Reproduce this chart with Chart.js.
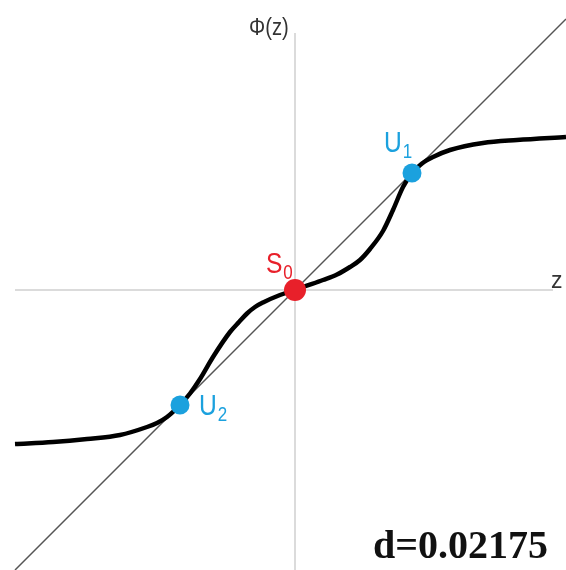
<!DOCTYPE html>
<html>
<head>
<meta charset="utf-8">
<script src="https://cdn.jsdelivr.net/npm/chart.js@4/dist/chart.umd.min.js"></script>
<style>
  html, body { margin: 0; padding: 0; background: #fff; }
  canvas { display: block; }
</style>
</head>
<body>
<canvas id="phiChart" width="566" height="570"></canvas>
<script>
// map Phi(z) sampled along z
const zValues = [-2.80, -2.42, -2.08, -1.75, -1.48, -1.38, -1.28, -1.15, -1.05, -0.95, -0.82, -0.65, -0.56, -0.48, -0.40, -0.32, -0.15, 0,
  0.08, 0.28, 0.42, 0.55, 0.65, 0.75, 0.88, 0.98, 1.08, 1.17, 1.27, 1.38, 1.55, 1.88, 2.22, 2.71];
const phiValues = [-1.54, -1.52, -1.49, -1.45, -1.37, -1.33, -1.27, -1.15, -1.035, -0.89, -0.67, -0.42, -0.32, -0.235, -0.17, -0.125, -0.05, 0,
  0.03, 0.10, 0.155, 0.23, 0.30, 0.41, 0.59, 0.80, 1.03, 1.17, 1.265, 1.33, 1.40, 1.47, 1.50, 1.53];

// identity line Phi(z) = z
const diagZ = [-2.80, 2.71];

// fixed points
const stableName = ['S', '0'];
const stablePoint = [0, 0];
const unstableNames = [['U', '1'], ['U', '2']];
const unstablePoints = [[1.17, 1.17], [-1.15, -1.15]];

const dLabel = 'd=0.02175';

const curveData = zValues.map((z, i) => ({ x: z, y: phiValues[i] }));
const diagData = diagZ.map(z => ({ x: z, y: z }));

// draws x/y axes through the origin, under the datasets
const axesPlugin = {
  id: 'axes',
  beforeDatasetsDraw(chart) {
    const { ctx, scales: { x, y } } = chart;
    const x0 = x.getPixelForValue(0);
    const y0 = y.getPixelForValue(0);
    ctx.save();
    ctx.strokeStyle = '#cfcfcf';
    ctx.lineWidth = 1.5;
    ctx.beginPath();
    ctx.moveTo(x.getPixelForValue(-2.80), y0);
    ctx.lineTo(x.getPixelForValue(2.58), y0);
    ctx.moveTo(x0, y.getPixelForValue(2.57));
    ctx.lineTo(x0, y.getPixelForValue(-2.80));
    ctx.stroke();
    ctx.restore();
  }
};

function subLabel(ctx, parts, px, py, size, color) {
  ctx.save();
  ctx.fillStyle = color;
  ctx.textBaseline = 'alphabetic';
  ctx.translate(px, py);
  ctx.scale(0.85, 1);
  ctx.font = size + 'px "Liberation Sans", Arial, sans-serif';
  ctx.fillText(parts[0], 0, 0);
  const w = ctx.measureText(parts[0]).width;
  ctx.font = Math.round(size * 0.68) + 'px "Liberation Sans", Arial, sans-serif';
  ctx.fillText(parts[1], w + 1, 6);
  ctx.restore();
}

// axis titles, point names and the d value
const labelPlugin = {
  id: 'labels',
  afterDatasetsDraw(chart) {
    const { ctx, scales: { x, y } } = chart;
    ctx.save();
    ctx.fillStyle = '#333';
    ctx.font = '23px "Liberation Sans", Arial, sans-serif';
    ctx.textBaseline = 'alphabetic';
    ctx.save();
    ctx.translate(249, 35);
    ctx.scale(0.88, 1);
    ctx.fillText('Φ(z)', 0, 0);
    ctx.restore();
    ctx.fillText('z', 551, 288);

    subLabel(ctx, stableName, x.getPixelForValue(stablePoint[0]) - 29, y.getPixelForValue(stablePoint[1]) - 17, 29, '#e8202a');
    subLabel(ctx, unstableNames[0], x.getPixelForValue(unstablePoints[0][0]) - 28, y.getPixelForValue(unstablePoints[0][1]) - 21, 29, '#1ba1de');
    subLabel(ctx, unstableNames[1], x.getPixelForValue(unstablePoints[1][0]) + 19, y.getPixelForValue(unstablePoints[1][1]) + 10, 29, '#1ba1de');

    ctx.fillStyle = '#111';
    ctx.font = 'bold 40px "Liberation Serif", "DejaVu Serif", serif';
    ctx.textAlign = 'right';
    ctx.fillText(dLabel, 548, 558);
    ctx.restore();
  }
};

new Chart(document.getElementById('phiChart'), {
  type: 'scatter',
  data: {
    datasets: [
      {
        label: 'S0',
        data: [{ x: stablePoint[0], y: stablePoint[1] }],
        pointRadius: 11,
        pointBackgroundColor: '#e8202a',
        pointBorderWidth: 0,
        order: 0
      },
      {
        label: 'U',
        data: unstablePoints.map(p => ({ x: p[0], y: p[1] })),
        pointRadius: 9.5,
        pointBackgroundColor: '#1ba1de',
        pointBorderWidth: 0,
        order: 1
      },
      {
        label: 'Phi',
        data: curveData,
        showLine: true,
        borderColor: '#000',
        borderWidth: 4.5,
        pointRadius: 0,
        cubicInterpolationMode: 'monotone',
        order: 2
      },
      {
        label: 'z',
        data: diagData,
        showLine: true,
        borderColor: '#555',
        borderWidth: 1.5,
        pointRadius: 0,
        order: 3
      }
    ]
  },
  options: {
    responsive: false,
    animation: false,
    layout: { padding: 0, autoPadding: false },
    plugins: {
      legend: { display: false },
      tooltip: { enabled: false }
    },
    scales: {
      x: { type: 'linear', min: -2.95, max: 2.71, display: false },
      y: { type: 'linear', min: -2.80, max: 2.90, display: false }
    }
  },
  plugins: [axesPlugin, labelPlugin]
});
</script>
</body>
</html>
